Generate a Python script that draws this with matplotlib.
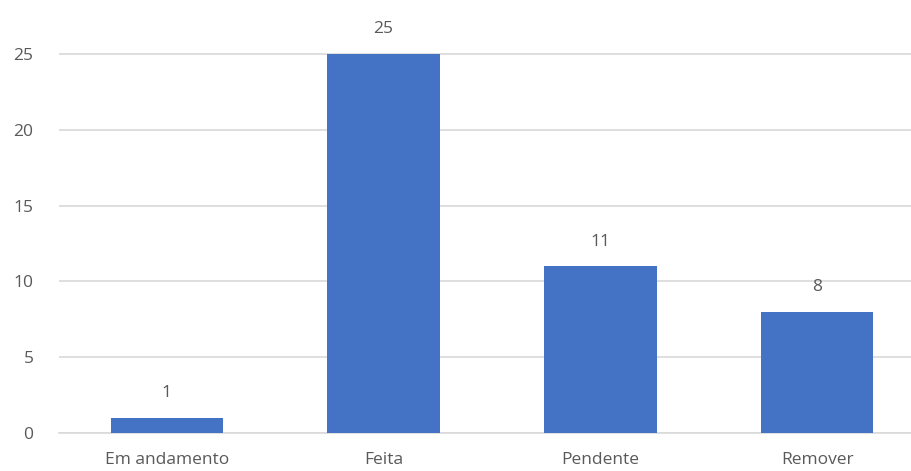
import matplotlib.pyplot as plt

categories = ["Em andamento", "Feita", "Pendente", "Remover"]
values = [1, 25, 11, 8]
y_ticks = [0, 5, 10, 15, 20, 25]

BAR_COLOR = "#4472C4"
TEXT_COLOR = "#595959"
GRID_COLOR = "#D9D9D9"

plt.rcParams["font.family"] = ["Open Sans", "DejaVu Sans"]

fig = plt.figure(figsize=(9.12, 4.71), dpi=100)
# axes runs a bit past the right edge, like the cropped original
ax = fig.add_axes([58.5 / 912, 38 / 471, 867 / 912, 433 / 471])

x = list(range(len(categories)))
bars = ax.bar(x, values, width=0.52, color=BAR_COLOR, zorder=3)
ax.bar_label(bars, padding=12, fontsize=12.5, color=TEXT_COLOR)

ax.set_xlim(-0.5, len(categories) - 0.5)
ax.set_ylim(0, 28.56)
ax.set_yticks(y_ticks)
ax.set_xticks(x)
ax.set_xticklabels(categories)
ax.tick_params(axis="both", length=0, labelsize=12.5, labelcolor=TEXT_COLOR)
ax.tick_params(axis="y", pad=18)
ax.tick_params(axis="x", pad=14)

ax.yaxis.grid(True, color=GRID_COLOR, linewidth=1.2, zorder=0)
for side in ["top", "right", "left"]:
    ax.spines[side].set_visible(False)
ax.spines["bottom"].set_color(GRID_COLOR)
ax.spines["bottom"].set_linewidth(1.2)

fig.savefig("out.png", dpi=100)
